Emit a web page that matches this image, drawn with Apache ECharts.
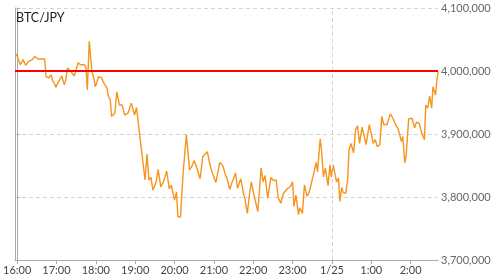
<!DOCTYPE html>
<html><head><meta charset="utf-8">
<script src="https://cdn.jsdelivr.net/npm/echarts@6/dist/echarts.min.js"></script>
<style>html,body{margin:0;padding:0;background:#fff}#c{width:496px;height:279px}</style>
</head><body><div id="c"></div>
<script>
const title = "BTC/JPY";
const times = ["15:57","15:59","16:02","16:05","16:09","16:13","16:17","16:20","16:23","16:27","16:32","16:37","16:42","16:44","16:48","16:52","16:54","16:57","16:59","17:02","17:05","17:08","17:12","17:14","17:17","17:20","17:22","17:27","17:29","17:33","17:37","17:40","17:43","17:45","17:47","17:50","17:54","17:57","17:59","18:01","18:04","18:07","18:09","18:11","18:14","18:17","18:19","18:22","18:24","18:26","18:29","18:32","18:36","18:40","18:44","18:46","18:49","18:52","18:54","18:56","18:59","19:02","19:05","19:09","19:11","19:15","19:18","19:21","19:24","19:27","19:32","19:35","19:39","19:43","19:48","19:52","19:55","19:57","20:00","20:03","20:05","20:09","20:13","20:18","20:23","20:26","20:30","20:34","20:39","20:43","20:46","20:50","20:53","20:57","21:00","21:03","21:09","21:12","21:14","21:17","21:20","21:24","21:28","21:33","21:36","21:41","21:45","21:47","21:51","21:54","21:57","22:02","22:07","22:12","22:15","22:18","22:22","22:27","22:31","22:35","22:38","22:42","22:46","22:52","22:57","23:00","23:02","23:05","23:09","23:11","23:15","23:18","23:22","23:25","23:28","23:31","23:33","23:36","23:38","23:42","23:44","23:47","23:50","23:54","23:57","23:59","00:02","00:04","00:07","00:10","00:12","00:15","00:17","00:21","00:24","00:26","00:29","00:33","00:36","00:39","00:42","00:46","00:49","00:52","00:54","00:57","00:59","01:03","01:06","01:09","01:13","01:16","01:19","01:24","01:27","01:29","01:33","01:37","01:41","01:43","01:46","01:48","01:51","01:53","01:57","02:02","02:06","02:09","02:13","02:17","02:21","02:23","02:26","02:29","02:32","02:34","02:38","02:40","02:42"];
const prices = [4023000,4027000,4018000,4010000,4018000,4009000,4015000,4013000,4018000,4023000,4019000,4019000,4019000,3991000,3989000,3994000,3985000,3980000,3974000,3981000,3983000,3992000,3978000,3986000,4005000,4004000,3999000,3992000,3994000,4013000,4010000,4007000,4010000,4005000,3970000,4047000,3999000,3989000,3975000,3980000,3991000,3990000,3989000,3983000,3981000,3973000,3960000,3954000,3928000,3930000,3933000,3967000,3946000,3946000,3930000,3933000,3933000,3934000,3949000,3942000,3930000,3942000,3940000,3880000,3883000,3827000,3868000,3827000,3831000,3811000,3824000,3844000,3816000,3824000,3841000,3813000,3819000,3817000,3795000,3808000,3769000,3768000,3837000,3899000,3843000,3848000,3858000,3846000,3829000,3864000,3862000,3872000,3856000,3840000,3840000,3823000,3855000,3858000,3849000,3837000,3830000,3812000,3824000,3838000,3814000,3829000,3806000,3799000,3774000,3802000,3824000,3799000,3777000,3846000,3824000,3834000,3798000,3831000,3826000,3827000,3799000,3790000,3806000,3813000,3817000,3824000,3785000,3803000,3772000,3783000,3774000,3819000,3801000,3807000,3806000,3832000,3830000,3855000,3840000,3892000,3875000,3832000,3846000,3818000,3851000,3832000,3851000,3840000,3824000,3830000,3793000,3815000,3807000,3806000,3827000,3875000,3885000,3870000,3907000,3913000,3885000,3911000,3911000,3883000,3881000,3915000,3917000,3885000,3891000,3880000,3883000,3928000,3915000,3915000,3913000,3932000,3925000,3915000,3908000,3909000,3888000,3896000,3854000,3864000,3924000,3925000,3910000,3919000,3917000,3901000,3891000,3946000,3941000,3960000,3941000,3975000,3962000,3986000,3999000];
const xTickLabels = ["16:00","17:00","18:00","19:00","20:00","21:00","22:00","23:00","1/25","1:00","2:00"];
const refLevel = 4000000;
const dateBoundaryLabel = "1/25";

function toMin(t){ let [h,m]=t.split(":").map(Number); if(h<12) h+=24; return (h-16)*60+m; }
const tickMins = xTickLabels.map((l,i)=>i*60);
const data = times.map((t,i)=>[toMin(t), prices[i]]);
const FONT = "Lato, 'Noto Sans', sans-serif";

const chart = echarts.init(document.getElementById('c'), null, {renderer:'canvas'});
chart.setOption({
  animation:false,
  title:{text:title,left:16,top:11,padding:0,textStyle:{fontSize:12.5,fontWeight:'normal',color:'#222',fontFamily:FONT}},
  grid:{left:8,right:58,top:8,bottom:19,containLabel:false},
  xAxis:{type:'value',min:-3.3,max:641.7,
    axisLine:{show:true,lineStyle:{color:'#aaa',width:1}},
    axisTick:{show:true,length:4,lineStyle:{color:'#aaa'},customValues:tickMins},
    axisLabel:{color:'#444',fontSize:11,fontFamily:FONT,margin:5,customValues:tickMins,
      formatter:v=>xTickLabels[Math.round(v/60)]},
    splitLine:{show:false}},
  yAxis:[{type:'value',position:'right',min:3700000,max:4100000,interval:100000,
    axisLine:{show:true,lineStyle:{color:'#aaa'}},
    axisTick:{show:true,length:3,lineStyle:{color:'#aaa'}},
    axisLabel:{color:'#666',fontSize:11,fontFamily:FONT,margin:3,
      formatter:v=>v.toLocaleString('en-US')},
    splitLine:{show:true,lineStyle:{color:'#d4d4d4',type:[4,3]}}},
   {type:'value',position:'left',min:3700000,max:4100000,interval:100000,
    axisLine:{show:true,lineStyle:{color:'#aaa'}},axisTick:{show:false},axisLabel:{show:false},splitLine:{show:false}}],
  series:[{type:'line',data:data,showSymbol:false,symbol:'none',
    lineStyle:{color:'#f7941d',width:1.4},
    markLine:{silent:true,symbol:'none',label:{show:false},animation:false,
      data:[
        {xAxis:tickMins[xTickLabels.indexOf(dateBoundaryLabel)],lineStyle:{color:'#d4d4d4',type:[4,3],width:1}},
        {yAxis:refLevel,lineStyle:{color:'#ff0000',type:'solid',width:2}}
      ]}
  }]
});
</script></body></html>
